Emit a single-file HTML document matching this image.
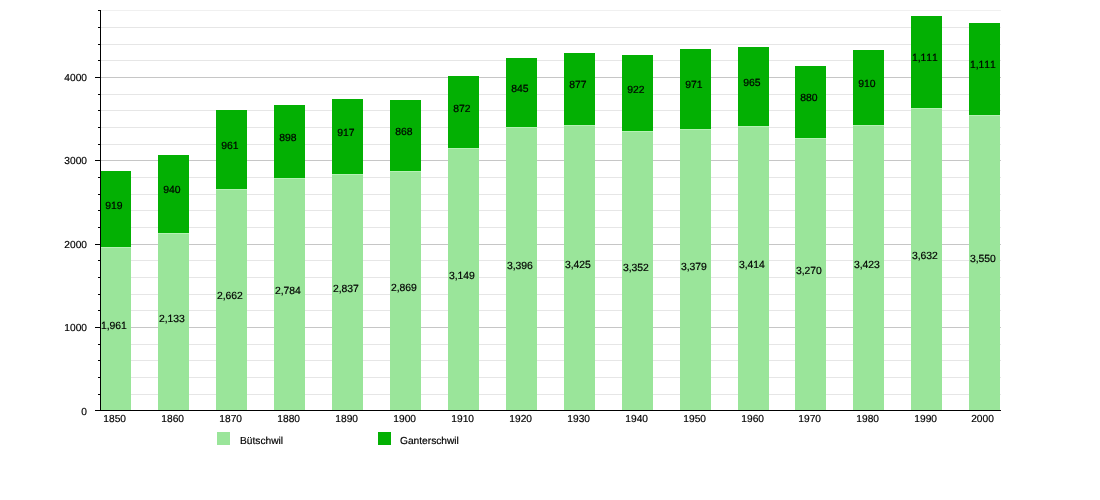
<!DOCTYPE html>
<html><head><meta charset="utf-8"><title>Chart</title>
<style>
html,body{margin:0;padding:0;background:#fff;}
body{width:1100px;height:500px;overflow:hidden;}
svg{display:block;}
text{font-family:"Liberation Sans",sans-serif;font-size:10.2px;fill:#000;font-kerning:none;text-rendering:geometricPrecision;stroke:#000;stroke-width:0.18px;}
.v{font-size:10.4px;}
</style></head><body>
<svg width="1100" height="500" viewBox="0 0 1100 500">
<rect x="0" y="0" width="1100" height="500" fill="#ffffff"/>

<rect x="101" y="394.00" width="900" height="1" fill="#e6e6e6"/>
<rect x="101" y="377.00" width="900" height="1" fill="#e6e6e6"/>
<rect x="101" y="360.00" width="900" height="1" fill="#e6e6e6"/>
<rect x="101" y="344.00" width="900" height="1" fill="#e6e6e6"/>
<rect x="101" y="327.00" width="900" height="1" fill="#c6c6c6"/>
<rect x="101" y="310.00" width="900" height="1" fill="#e6e6e6"/>
<rect x="101" y="294.00" width="900" height="1" fill="#e6e6e6"/>
<rect x="101" y="277.00" width="900" height="1" fill="#e6e6e6"/>
<rect x="101" y="260.00" width="900" height="1" fill="#e6e6e6"/>
<rect x="101" y="244.00" width="900" height="1" fill="#c6c6c6"/>
<rect x="101" y="227.00" width="900" height="1" fill="#e6e6e6"/>
<rect x="101" y="210.00" width="900" height="1" fill="#e6e6e6"/>
<rect x="101" y="194.00" width="900" height="1" fill="#e6e6e6"/>
<rect x="101" y="177.00" width="900" height="1" fill="#e6e6e6"/>
<rect x="101" y="160.00" width="900" height="1" fill="#c6c6c6"/>
<rect x="101" y="144.00" width="900" height="1" fill="#e6e6e6"/>
<rect x="101" y="127.00" width="900" height="1" fill="#e6e6e6"/>
<rect x="101" y="110.00" width="900" height="1" fill="#e6e6e6"/>
<rect x="101" y="94.00" width="900" height="1" fill="#e6e6e6"/>
<rect x="101" y="77.00" width="900" height="1" fill="#c6c6c6"/>
<rect x="101" y="60.00" width="900" height="1" fill="#e6e6e6"/>
<rect x="101" y="44.00" width="900" height="1" fill="#e6e6e6"/>
<rect x="101" y="27.00" width="900" height="1" fill="#e6e6e6"/>
<rect x="101" y="10.00" width="900" height="1" fill="#f0f0f0"/>
<rect x="100" y="247" width="31" height="163" fill="#9ae59a"/>
<rect x="100" y="171" width="31" height="76" fill="#03b003"/>
<rect x="100" y="247.0" width="31" height="1" fill="#b4f2b4"/>
<text class="v" x="113.9" y="328.6" text-anchor="middle">1,961</text>
<text class="v" x="113.9" y="208.6" text-anchor="middle">919</text>
<text x="114.7" y="421.8" text-anchor="middle">1850</text>
<rect x="158" y="233" width="31" height="177" fill="#9ae59a"/>
<rect x="158" y="155" width="31" height="78" fill="#03b003"/>
<rect x="158" y="233.0" width="31" height="1" fill="#b4f2b4"/>
<text class="v" x="171.9" y="321.5" text-anchor="middle">2,133</text>
<text class="v" x="171.9" y="193.4" text-anchor="middle">940</text>
<text x="172.7" y="421.8" text-anchor="middle">1860</text>
<rect x="216" y="189" width="31" height="221" fill="#9ae59a"/>
<rect x="216" y="110" width="31" height="79" fill="#03b003"/>
<rect x="216" y="189.0" width="31" height="1" fill="#b4f2b4"/>
<text class="v" x="229.9" y="299.4" text-anchor="middle">2,662</text>
<text class="v" x="229.9" y="148.5" text-anchor="middle">961</text>
<text x="230.7" y="421.8" text-anchor="middle">1870</text>
<rect x="274" y="178" width="31" height="232" fill="#9ae59a"/>
<rect x="274" y="105" width="31" height="73" fill="#03b003"/>
<rect x="274" y="178.0" width="31" height="1" fill="#b4f2b4"/>
<text class="v" x="287.9" y="294.4" text-anchor="middle">2,784</text>
<text class="v" x="287.9" y="140.9" text-anchor="middle">898</text>
<text x="288.7" y="421.8" text-anchor="middle">1880</text>
<rect x="332" y="174" width="31" height="236" fill="#9ae59a"/>
<rect x="332" y="99" width="31" height="75" fill="#03b003"/>
<rect x="332" y="174.0" width="31" height="1" fill="#b4f2b4"/>
<text class="v" x="345.9" y="292.1" text-anchor="middle">2,837</text>
<text class="v" x="345.9" y="135.7" text-anchor="middle">917</text>
<text x="346.7" y="421.8" text-anchor="middle">1890</text>
<rect x="390" y="171" width="31" height="239" fill="#9ae59a"/>
<rect x="390" y="100" width="31" height="71" fill="#03b003"/>
<rect x="390" y="171.0" width="31" height="1" fill="#b4f2b4"/>
<text class="v" x="403.9" y="290.8" text-anchor="middle">2,869</text>
<text class="v" x="403.9" y="135.1" text-anchor="middle">868</text>
<text x="404.7" y="421.8" text-anchor="middle">1900</text>
<rect x="448" y="148" width="31" height="262" fill="#9ae59a"/>
<rect x="448" y="76" width="31" height="72" fill="#03b003"/>
<rect x="448" y="148.0" width="31" height="1" fill="#b4f2b4"/>
<text class="v" x="461.9" y="279.1" text-anchor="middle">3,149</text>
<text class="v" x="461.9" y="111.6" text-anchor="middle">872</text>
<text x="462.7" y="421.8" text-anchor="middle">1910</text>
<rect x="506" y="127" width="31" height="283" fill="#9ae59a"/>
<rect x="506" y="58" width="31" height="69" fill="#03b003"/>
<rect x="506" y="127.0" width="31" height="1" fill="#b4f2b4"/>
<text class="v" x="519.9" y="268.9" text-anchor="middle">3,396</text>
<text class="v" x="519.9" y="92.1" text-anchor="middle">845</text>
<text x="520.7" y="421.8" text-anchor="middle">1920</text>
<rect x="564" y="125" width="31" height="285" fill="#9ae59a"/>
<rect x="564" y="53" width="31" height="72" fill="#03b003"/>
<rect x="564" y="125.0" width="31" height="1" fill="#b4f2b4"/>
<text class="v" x="577.9" y="267.6" text-anchor="middle">3,425</text>
<text class="v" x="577.9" y="88.4" text-anchor="middle">877</text>
<text x="578.7" y="421.8" text-anchor="middle">1930</text>
<rect x="622" y="131" width="31" height="279" fill="#9ae59a"/>
<rect x="622" y="55" width="31" height="76" fill="#03b003"/>
<rect x="622" y="131.0" width="31" height="1" fill="#b4f2b4"/>
<text class="v" x="635.9" y="270.7" text-anchor="middle">3,352</text>
<text class="v" x="635.9" y="92.6" text-anchor="middle">922</text>
<text x="636.7" y="421.8" text-anchor="middle">1940</text>
<rect x="680" y="129" width="31" height="281" fill="#9ae59a"/>
<rect x="680" y="49" width="31" height="80" fill="#03b003"/>
<rect x="680" y="129.0" width="31" height="1" fill="#b4f2b4"/>
<text class="v" x="693.9" y="269.6" text-anchor="middle">3,379</text>
<text class="v" x="693.9" y="88.3" text-anchor="middle">971</text>
<text x="694.7" y="421.8" text-anchor="middle">1950</text>
<rect x="738" y="126" width="31" height="284" fill="#9ae59a"/>
<rect x="738" y="47" width="31" height="79" fill="#03b003"/>
<rect x="738" y="126.0" width="31" height="1" fill="#b4f2b4"/>
<text class="v" x="751.9" y="268.1" text-anchor="middle">3,414</text>
<text class="v" x="751.9" y="85.6" text-anchor="middle">965</text>
<text x="752.7" y="421.8" text-anchor="middle">1960</text>
<rect x="795" y="138" width="31" height="272" fill="#9ae59a"/>
<rect x="795" y="66" width="31" height="72" fill="#03b003"/>
<rect x="795" y="138.0" width="31" height="1" fill="#b4f2b4"/>
<text class="v" x="808.9" y="274.1" text-anchor="middle">3,270</text>
<text class="v" x="808.9" y="101.2" text-anchor="middle">880</text>
<text x="809.7" y="421.8" text-anchor="middle">1970</text>
<rect x="853" y="125" width="31" height="285" fill="#9ae59a"/>
<rect x="853" y="50" width="31" height="75" fill="#03b003"/>
<rect x="853" y="125.0" width="31" height="1" fill="#b4f2b4"/>
<text class="v" x="866.9" y="267.7" text-anchor="middle">3,423</text>
<text class="v" x="866.9" y="87.2" text-anchor="middle">910</text>
<text x="867.7" y="421.8" text-anchor="middle">1980</text>
<rect x="911" y="108" width="31" height="302" fill="#9ae59a"/>
<rect x="911" y="16" width="31" height="92" fill="#03b003"/>
<rect x="911" y="108.0" width="31" height="1" fill="#b4f2b4"/>
<text class="v" x="924.9" y="259.0" text-anchor="middle">3,632</text>
<text class="v" x="924.9" y="61.4" text-anchor="middle">1,111</text>
<text x="925.7" y="421.8" text-anchor="middle">1990</text>
<rect x="969" y="115" width="31" height="295" fill="#9ae59a"/>
<rect x="969" y="23" width="31" height="92" fill="#03b003"/>
<rect x="969" y="115.0" width="31" height="1" fill="#b4f2b4"/>
<text class="v" x="982.9" y="262.4" text-anchor="middle">3,550</text>
<text class="v" x="982.9" y="68.2" text-anchor="middle">1,111</text>
<text x="982.5" y="421.8" text-anchor="middle">2000</text>
<rect x="100" y="10" width="1" height="401" fill="#000"/>
<rect x="95" y="410" width="906" height="1" fill="#000"/>
<rect x="98" y="394.00" width="2" height="1" fill="#000"/>
<rect x="98" y="377.00" width="2" height="1" fill="#000"/>
<rect x="98" y="360.00" width="2" height="1" fill="#000"/>
<rect x="98" y="344.00" width="2" height="1" fill="#000"/>
<rect x="95" y="327.00" width="5" height="1" fill="#000"/>
<text x="87" y="331.4" text-anchor="end">1000</text>
<rect x="98" y="310.00" width="2" height="1" fill="#000"/>
<rect x="98" y="294.00" width="2" height="1" fill="#000"/>
<rect x="98" y="277.00" width="2" height="1" fill="#000"/>
<rect x="98" y="260.00" width="2" height="1" fill="#000"/>
<rect x="95" y="244.00" width="5" height="1" fill="#000"/>
<text x="87" y="248.4" text-anchor="end">2000</text>
<rect x="98" y="227.00" width="2" height="1" fill="#000"/>
<rect x="98" y="210.00" width="2" height="1" fill="#000"/>
<rect x="98" y="194.00" width="2" height="1" fill="#000"/>
<rect x="98" y="177.00" width="2" height="1" fill="#000"/>
<rect x="95" y="160.00" width="5" height="1" fill="#000"/>
<text x="87" y="164.4" text-anchor="end">3000</text>
<rect x="98" y="144.00" width="2" height="1" fill="#000"/>
<rect x="98" y="127.00" width="2" height="1" fill="#000"/>
<rect x="98" y="110.00" width="2" height="1" fill="#000"/>
<rect x="98" y="94.00" width="2" height="1" fill="#000"/>
<rect x="95" y="77.00" width="5" height="1" fill="#000"/>
<text x="87" y="81.4" text-anchor="end">4000</text>
<rect x="98" y="60.00" width="2" height="1" fill="#000"/>
<rect x="98" y="44.00" width="2" height="1" fill="#000"/>
<rect x="98" y="27.00" width="2" height="1" fill="#000"/>
<rect x="98" y="10.00" width="2" height="1" fill="#000"/>
<text x="87" y="415.0" text-anchor="end">0</text>
<rect x="217" y="432" width="13" height="13" fill="#9ae59a"/>
<text x="240" y="443.9">Bütschwil</text>
<rect x="378" y="432" width="13" height="13" fill="#03b003"/>
<text x="400" y="443.9">Ganterschwil</text>
</svg></body></html>
